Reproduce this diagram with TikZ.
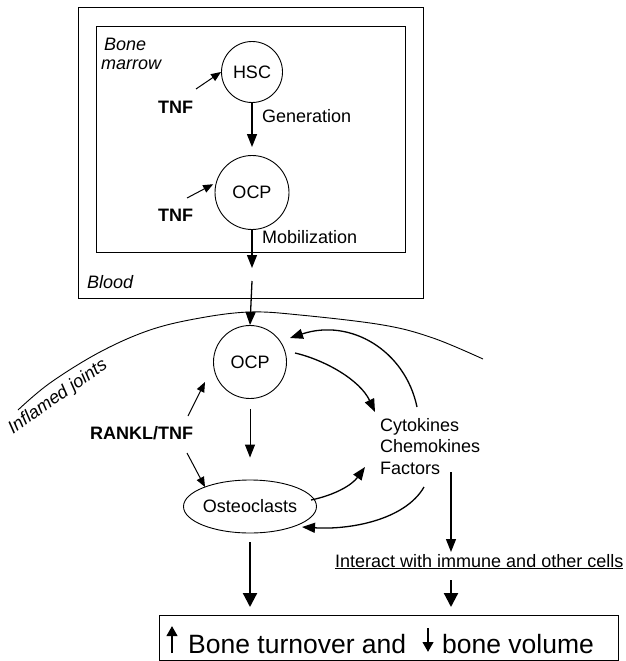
\documentclass[tikz,border=0pt]{standalone}
\usepackage{fontspec}
\setmainfont{Liberation Sans}
\usetikzlibrary{arrows.meta,shapes.geometric,calc}
\begin{document}
\begin{tikzpicture}[x=1pt,y=-1pt,
  every node/.style={font=\fontsize{18}{21.5}\selectfont, inner sep=0pt},
  cell/.style={draw, circle, line width=0.9pt},
  lbl/.style={anchor=base west},
  arr/.style={line width=1.3pt, -{Triangle[length=13pt,width=10pt]}},
  sarr/.style={line width=1pt, -{Triangle[length=10pt,width=8pt]}},
  barr/.style={line width=2.2pt, -{Triangle[length=14pt,width=14pt]}},
  boxline/.style={line width=0.9pt},
  glyph/.style={line width=2.6pt, -{Triangle[length=10pt,width=10.5pt]}}]
\useasboundingbox (0,0) rectangle (625,661);
% boxes
\draw[boxline] (78,7) rectangle (423,298);
\draw[boxline] (96,26) rectangle (405,252);
% nodes
\node[cell, minimum size=61pt] (hsc) at (252,72) {HSC};
\node[cell, minimum size=74pt] (ocp1) at (252,192.5) {OCP};
\node[cell, minimum size=73pt] (ocp2) at (250,362) {OCP};
\node[draw, ellipse, line width=0.9pt, minimum width=108pt, minimum height=53pt] (ost) at (250,506.5) {Osteoclasts};
\node[lbl, font=\fontsize{18}{21.5}\selectfont\itshape] (bone) at (104,51) {Bone};
\node[lbl, font=\fontsize{18}{21.5}\selectfont\itshape] (marrow) at (101,70) {marrow};
\node[lbl, font=\fontsize{18}{21.5}\selectfont\itshape] (blood) at (87,288) {Blood};
\node[lbl, font=\fontsize{18}{21.5}\selectfont\bfseries] (tnf1) at (158,113) {TNF};
\node[lbl, font=\fontsize{18}{21.5}\selectfont\bfseries] (tnf2) at (158,221) {TNF};
\node[lbl] (gen) at (262,122) {Generation};
\node[lbl] (mob) at (262,243) {Mobilization};
\node[font=\fontsize{18}{21.5}\selectfont\itshape, rotate=35] (inf) at (58,397) {Inflamed joints};
\node[lbl, font=\fontsize{18}{21.5}\selectfont\bfseries] (rankl) at (90,439) {RANKL/TNF};
\node[lbl] (cyt1) at (380,431) {Cytokines};
\node[lbl] (cyt2) at (380,452.5) {Chemokines};
\node[lbl] (cyt3) at (380,474) {Factors};
\node[lbl] (inter) at (335,567) {\underline{Interact with immune and other cells}};
\node[draw, boxline, minimum width=459pt, minimum height=45pt, anchor=north west] (box) at (159,615) {};
\node[lbl, font=\fontsize{26.5}{30}\selectfont] (bt1) at (188,653) {Bone turnover and};
\node[lbl, font=\fontsize{26.5}{30}\selectfont] (bt2) at (442,653) {bone volume};
% joint boundary
\draw[line width=0.9pt] plot[smooth, tension=0.6] coordinates {(18,410) (50,383) (100,352) (150,330) (200,318) (250,312) (300,315) (383,325) (433,338) (483,359)};
% coordinates
\coordinate (t1s) at (196,89);
\coordinate (t2s) at (187,198);
\coordinate (mobend) at (252,268);
\coordinate (bloodout) at (252,281);
\coordinate (r1s) at (188,416);
\coordinate (r1e) at (205,382);
\coordinate (r2s) at (187,453);
\coordinate (r2e) at (205,487);
\coordinate (o2a) at (295,353);
\coordinate (cyta) at (375,412);
\coordinate (cytb) at (417,407);
\coordinate (o2b) at (290,338);
\coordinate (osa) at (311,500);
\coordinate (cytc) at (365,467);
\coordinate (cytd) at (424,487);
\coordinate (osb) at (302,527);
\coordinate (fa) at (451,472);
\coordinate (fb) at (451,552);
\coordinate (ia) at (451,580);
% connectors
\draw[sarr] (t1s) -- (hsc.west);
\draw[sarr, shorten >=3pt] (t2s) -- (ocp1.165);
\draw[arr, shorten >=8pt] (hsc.south) -- (ocp1.north);
\draw[arr] (ocp1.south) -- (mobend);
\draw[arr] (bloodout) -- (ocp2.north);
\draw[sarr] (r1s) -- (r1e);
\draw[sarr] (r2s) -- (r2e);
\draw[arr, line width=1pt, shorten <=10pt, shorten >=22pt] (ocp2.south) -- (ost.north);
\draw[arr] (o2a) .. controls (325,360) and (360,380) .. (cyta);
\draw[arr] (cytb) .. controls (405,350) and (350,318) .. (o2b);
\draw[arr] (osa) .. controls (335,495) and (352,485) .. (cytc);
\draw[arr] (cytd) .. controls (405,520) and (350,530) .. (osb);
\draw[arr] (fa) -- (fb);
\draw[barr, shorten <=9pt, shorten >=8pt] (ost.south) -- (ost.south |- box.north);
\draw[barr, shorten >=8pt] (ia) -- (ia |- box.north);
% arrows in the result text
\draw[glyph] (172,653) -- (172,626);
\draw[glyph] (428,628) -- (428,652);
\end{tikzpicture}
\end{document}
